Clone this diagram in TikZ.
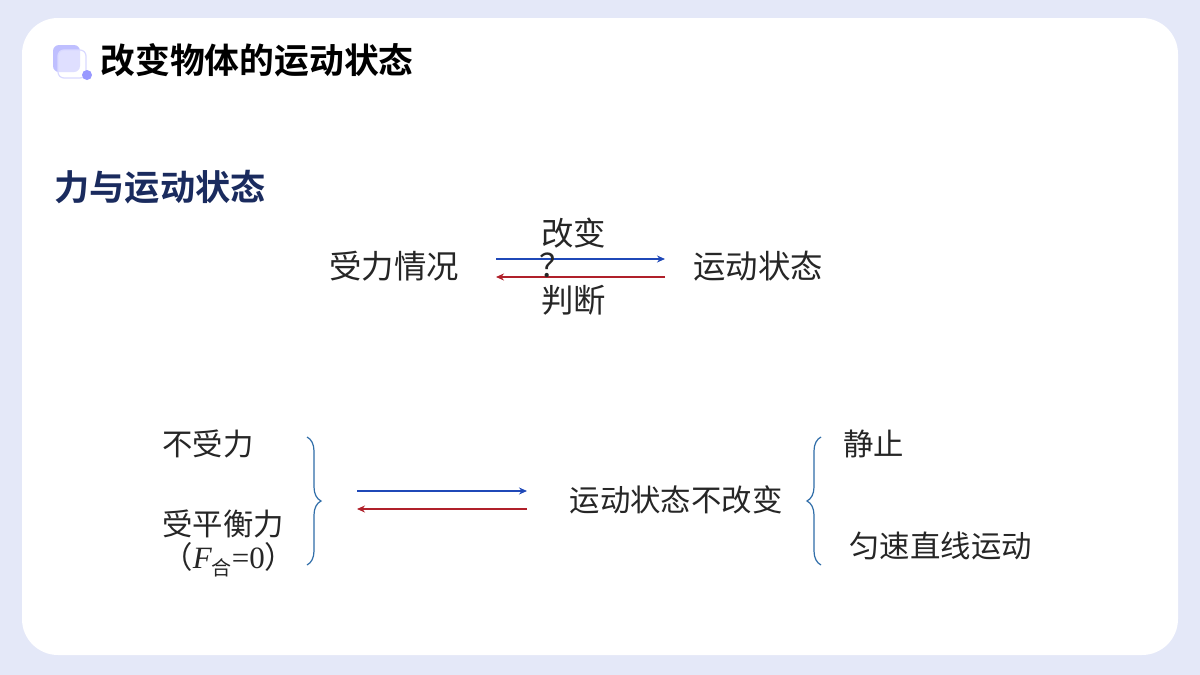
\documentclass[tikz,border=0pt]{standalone}
\usepackage{fontspec}
\setmainfont{Noto Sans CJK SC}
\newfontfamily\cjk{Noto Sans CJK SC}
\newfontfamily\cjkb{Noto Sans CJK SC Bold}
\newfontfamily\tms{Liberation Serif}
\usetikzlibrary{decorations.pathreplacing,arrows.meta}
\definecolor{bgc}{HTML}{E4E8F8}
\definecolor{navy}{HTML}{1A2B5E}
\definecolor{blu}{HTML}{1F48B8}
\definecolor{rd}{HTML}{B0202A}
\definecolor{brc}{HTML}{2F6DA8}
\begin{document}
\begin{tikzpicture}[x=0.5pt,y=-0.5pt,
  txt/.style={font=\cjk\fontsize{16.2}{18}\selectfont,text=black!85,inner sep=0pt},
  txs/.style={font=\cjk\fontsize{15.2}{17}\selectfont,text=black!85,inner sep=0pt},
  arr/.style={line width=0.6pt,-{Stealth[length=4pt,width=3.5pt]}},
  brc/.style={draw=brc,line width=0.6pt,decorate,decoration={brace,amplitude=7pt}}]
\useasboundingbox (0,0) rectangle (1200,675);
\fill[bgc] (0,0) rectangle (1200,675);
\fill[white,rounded corners=18pt] (22,18) rectangle (1178,655);
% icon
\fill[blue!25!white,rounded corners=3pt] (53,45) rectangle (80,72);
\draw[blue!15!white,rounded corners=3pt,line width=0.6pt,fill=white,fill opacity=0.5] (58,50) rectangle (86,78);
\fill[blue!40!white] (87,75) circle (5);
\node[font=\cjkb\fontsize{17.4}{19}\selectfont,anchor=west,inner sep=0pt] (title) at (100,60) {改变物体的运动状态};
\node[font=\cjkb\fontsize{17.6}{19}\selectfont,anchor=west,inner sep=0pt,text=navy] (sub) at (54,187) {力与运动状态};
% top row
\node[txt] (sl) at (394,266) {受力情况};
\node[txt] (yd) at (758,266) {运动状态};
\coordinate (a1) at (496,259); \coordinate (a2) at (665,259);
\coordinate (b1) at (665,277); \coordinate (b2) at (496,277);
\draw[arr,blu] (a1) -- (a2);
\draw[arr,rd] (b1) -- (b2);
\node[txt,anchor=west] (gb) at (541,233) {改变};
\node[txt,anchor=west] (q) at (539,265) {？};
\node[txt,anchor=west] (pd) at (541,300) {判断};
% bottom
\node[txs,anchor=west] (bsl) at (162,444) {不受力};
\node[txs,anchor=west] (spl) at (162,524) {受平衡力};
\node[txs,anchor=west] (fh) at (162,560) {（{\tms\fontsize{15.5}{17}\selectfont\textit{F}}\raisebox{-0.4ex}{\fontsize{10}{11}\selectfont 合}{\tms\fontsize{15.5}{17}\selectfont =0}）};
\draw[brc] (307,437) -- (307,565);
\coordinate (c1) at (357,491); \coordinate (c2) at (527,491);
\coordinate (d1) at (527,509); \coordinate (d2) at (357,509);
\draw[arr,blu] (c1) -- (c2);
\draw[arr,rd] (d1) -- (d2);
\node[txs] (bg) at (676,500) {运动状态不改变};
\draw[brc] (821,565) -- (821,437);
\node[txs,anchor=west] (jz) at (843,444) {静止};
\node[txs,anchor=west] (ys) at (849,546) {匀速直线运动};
\end{tikzpicture}
\end{document}
